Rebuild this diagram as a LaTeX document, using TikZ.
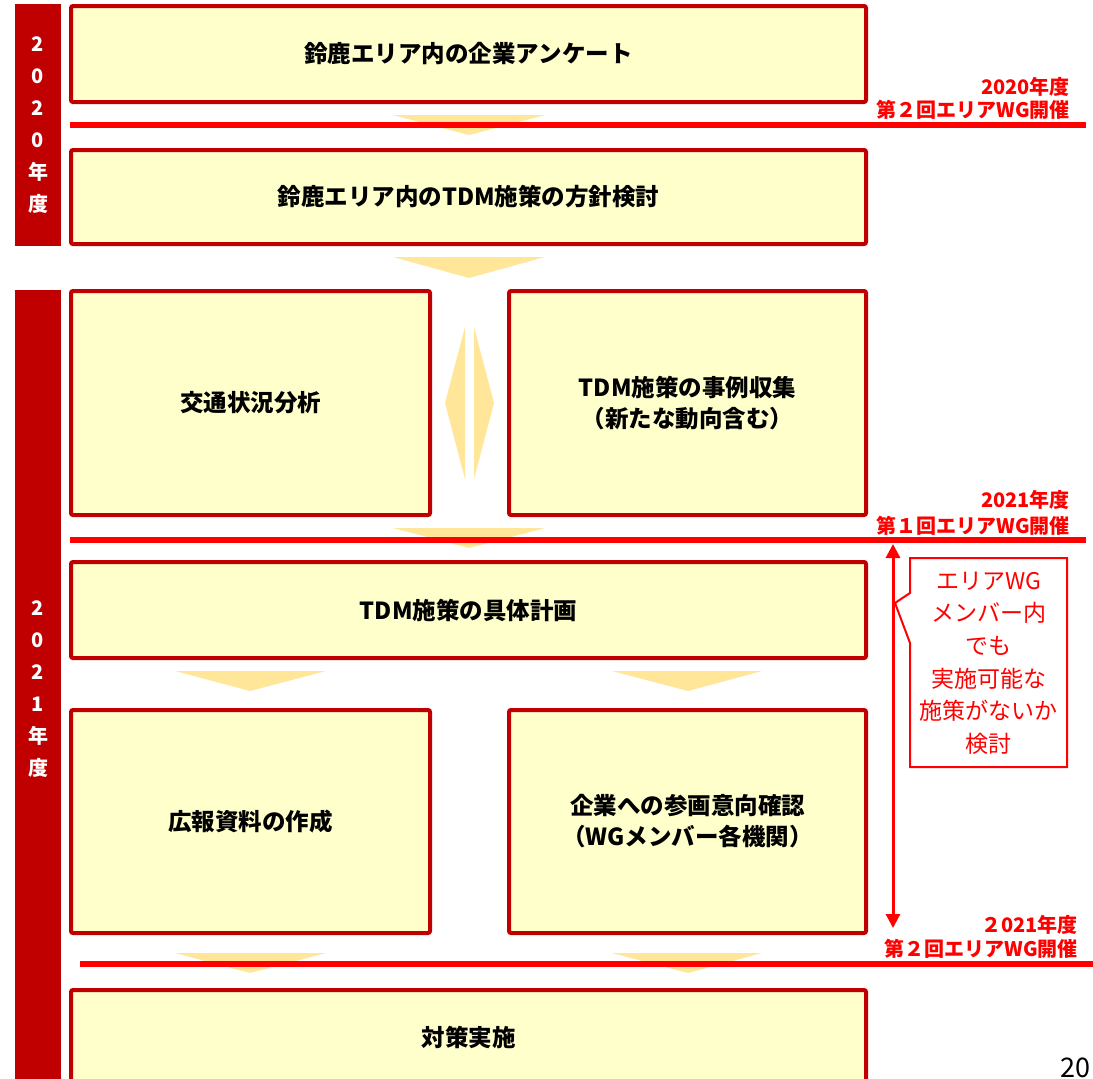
\documentclass[tikz,border=0pt]{standalone}
\usepackage{fontspec}
\setmainfont{Noto Sans CJK JP}
\usetikzlibrary{arrows.meta}
\definecolor{darkred}{HTML}{C00000}
\definecolor{boxfill}{HTML}{FFFFCC}
\definecolor{chev}{HTML}{FFE699}
\definecolor{brightred}{HTML}{FF0000}
\begin{document}
\begin{tikzpicture}[x=1pt,y=-1pt,
  box/.style={draw=darkred, line width=4pt, fill=boxfill, rounded corners=2pt, inner sep=0pt, align=center, font=\fontsize{23.5}{31}\selectfont\bfseries},
  chevron/.style={fill=chev, draw=none},
  wgline/.style={draw=brightred, line width=6pt},
  wglabel/.style={text=brightred, font=\fontsize{20}{24}\selectfont\bfseries, anchor=east, inner sep=0pt},
  yearbar/.style={fill=darkred, draw=none, text=white, align=center, inner sep=0pt, font=\fontsize{20}{32}\selectfont\bfseries},
  callout/.style={draw=brightred, line width=2pt, fill=white},
  callouttext/.style={text=brightred, align=center, inner sep=0pt, font=\fontsize{23}{32.6}\selectfont},
  spanarrow/.style={draw=brightred, line width=3pt, {Triangle[length=14pt,width=14pt]}-{Triangle[length=14pt,width=14pt]}}
]
\useasboundingbox[fill=white] (0,0) rectangle (1093,1079);

% year bars
\node[yearbar, minimum width=46pt, minimum height=242pt] (y20) at (38,125) {2\\0\\2\\0\\年\\度};
\node[yearbar, minimum width=46pt, minimum height=798pt] (y21) at (38,689) {2\\0\\2\\1\\年\\度};

% chevrons (under the lines)
\fill[chevron] (393,115) -- (545,115) -- (469,135) -- cycle;
\fill[chevron] (393,257) -- (545,257) -- (469,278) -- cycle;
\fill[chevron] (393,528) -- (545,528) -- (469,548) -- cycle;
\fill[chevron] (175,671) -- (326,671) -- (250,691) -- cycle;
\fill[chevron] (612,671) -- (762,671) -- (688,691) -- cycle;
\fill[chevron] (175,953) -- (326,953) -- (250,973) -- cycle;
\fill[chevron] (612,953) -- (762,953) -- (688,973) -- cycle;
% double diamond between box 3 and 4
\fill[chevron] (465,327) -- (445,403) -- (465,479) -- cycle;
\fill[chevron] (474,327) -- (494,403) -- (474,479) -- cycle;

% boxes
\node[box, minimum width=795pt, minimum height=96pt] (b1) at (468.5,54) {鈴鹿エリア内の企業アンケート};
\node[box, minimum width=795pt, minimum height=94pt] (b2) at (468.5,197) {鈴鹿エリア内のTDM施策の方針検討};
\node[box, minimum width=359pt, minimum height=224pt] (b3) at (250.5,403) {交通状況分析};
\node[box, minimum width=357pt, minimum height=224pt] (b4) at (687.5,403) {TDM施策の事例収集\\（新たな動向含む）};
\node[box, minimum width=795pt, minimum height=96pt] (b5) at (468.5,610) {TDM施策の具体計画};
\node[box, minimum width=359pt, minimum height=223pt] (b6) at (250.5,821.5) {広報資料の作成};
\node[box, minimum width=357pt, minimum height=223pt] (b7) at (687.5,821.5) {企業への参画意向確認\\（WGメンバー各機関）};
\node[box, minimum width=795pt, minimum height=94pt] (b8) at (468.5,1037) {対策実施};

% WG lines
\coordinate (l1a) at (70,125); \coordinate (l1b) at (1086,125);
\coordinate (l2a) at (70,540); \coordinate (l2b) at (1086,540);
\coordinate (l3a) at (80,964); \coordinate (l3b) at (1093,964);
\draw[wgline] (l1a) -- (l1b);
\draw[wgline] (l2a) -- (l2b);
\draw[wgline] (l3a) -- (l3b);

% WG labels
\node[wglabel] (w1a) at (1070,87) {2020年度};
\node[wglabel] (w1b) at (1070,110) {第２回エリアWG開催};
\node[wglabel] (w2a) at (1070,500) {2021年度};
\node[wglabel] (w2b) at (1070,526) {第１回エリアWG開催};
\node[wglabel] (w3a) at (1078,925) {２021年度};
\node[wglabel] (w3b) at (1078,949) {第２回エリアWG開催};

% span arrow
\coordinate (sa) at (893,544);
\coordinate (sb) at (893,928);
\draw[spanarrow] (sa) -- (sb);

% callout
\draw[callout] (910,558) -- (1067,558) -- (1067,767) -- (910,767) -- (910,643) -- (895,603) -- (910,593) -- cycle;
\node[callouttext] (ct) at (988.5,663) {エリアWG\\メンバー内\\でも\\実施可能な\\施策がないか\\検討};

% page number
\node[anchor=base east, inner sep=0pt, font=\fontsize{27}{30}\selectfont, text=black] (pn) at (1091,1077) {20};
\end{tikzpicture}
\end{document}
